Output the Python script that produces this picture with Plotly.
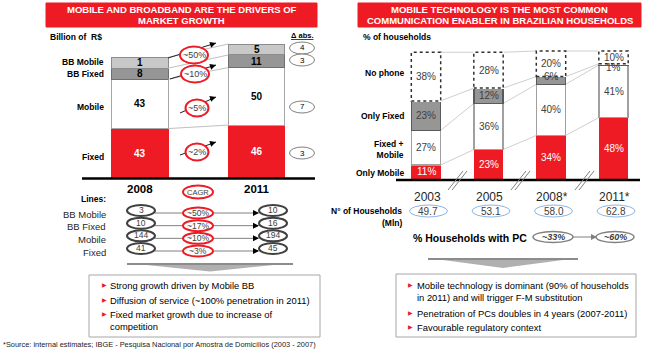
import plotly.graph_objects as go

# ---------------- DATA ----------------
left_years = ["2008", "2011"]
fixed_bn = [43, 46]
mobile_bn = [43, 50]
bb_fixed_bn = [8, 11]
bb_mobile_bn = [1, 5]
left_rows = ["BB Mobile", "BB Fixed", "Mobile", "Fixed"]
growth_rows = ["~50%", "~10%", "~5%", "~2%"]

line_rows = ["BB Mobile", "BB Fixed", "Mobile", "Fixed"]
lines_2008 = [3, 10, 144, 41]
lines_2011 = [10, 16, 194, 45]
lines_cagr = ["~50%", "~17%", "~10%", "~3%"]

right_years = ["2003", "2005", "2008*", "2011*"]
only_mobile = [11, 23, 34, 48]
fixed_mobile = [27, 36, 40, 41]
only_fixed = [23, 12, 6, 1]
no_phone = [38, 28, 20, 10]
right_rows = ["No phone", "Only Fixed", "Fixed +<br>Mobile", "Only Mobile"]
households = [49.7, 53.1, 58.0, 62.8]
pc_share = ["~33%", "~60%"]

left_bullets = ["Strong growth driven by Mobile BB",
                "Diffusion of service (~100% penetration in 2011)",
                "Fixed market growth due to increase of<br>competition"]
right_bullets = ["Mobile technology is dominant (90% of households<br>in 2011) and will trigger F-M substitution",
                 "Penetration of PCs doubles in 4 years (2007-2011)",
                 "Favourable regulatory context"]
source = "*Source: internal estimates; IBGE - Pesquisa Nacional por Amostra de Domicílios (2003 - 2007)"

# ---------------- STYLE / HELPERS ----------------
W, H = 650, 351
RED = "#EE1B24"
FONT = "Liberation Sans, Arial, sans-serif"
GRAYTXT = "#404040"
MIN_SEG = 9.5  # small segments drawn with a minimum height (as in the original)

def X(p): return p / W
def Y(p): return 1 - p / H

shapes, ann = [], []

def rect(x0, y0, x1, y1, fill="white", line="#A6A6A6", lw=1, dash=None):
    shapes.append(dict(type="rect", xref="paper", yref="paper", x0=X(x0), x1=X(x1),
                       y0=Y(y1), y1=Y(y0), fillcolor=fill,
                       line=dict(color=line, width=lw, dash=dash), layer="above"))

def ellipse(cx, cy, w, h, line, lw, fill="white"):
    shapes.append(dict(type="circle", xref="paper", yref="paper", x0=X(cx - w / 2), x1=X(cx + w / 2),
                       y0=Y(cy + h / 2), y1=Y(cy - h / 2), fillcolor=fill,
                       line=dict(color=line, width=lw), layer="above"))

def seg(x0, y0, x1, y1, color, lw=1, dash=None):
    shapes.append(dict(type="line", xref="paper", yref="paper", x0=X(x0), y0=Y(y0), x1=X(x1), y1=Y(y1),
                       line=dict(color=color, width=lw, dash=dash), layer="above"))

def poly(pts, fill):
    path = "M " + " L ".join(f"{X(a):.5f},{Y(b):.5f}" for a, b in pts) + " Z"
    shapes.append(dict(type="path", xref="paper", yref="paper", path=path, fillcolor=fill,
                       line=dict(width=0), layer="above"))

def txt(x, y, s, size=9, color="black", bold=False, anchor="center", italic=False):
    if bold: s = f"<b>{s}</b>"
    if italic: s = f"<i>{s}</i>"
    ann.append(dict(xref="paper", yref="paper", x=X(x), y=Y(y), text=s, showarrow=False,
                    xanchor=anchor, yanchor="middle", font=dict(size=size, color=color, family=FONT)))

def head(x, y, fx, fy, color="black", size=1.0):
    ann.append(dict(xref="paper", yref="paper", x=X(x), y=Y(y), ax=fx - x, ay=fy - y, text="",
                    showarrow=True, arrowhead=2, arrowsize=size, arrowwidth=1.2,
                    arrowcolor=color, standoff=0))

fig = go.Figure()

# ---------------- LEFT CHART ----------------
LW = 0.485
L_BASE, L_SCALE, L_RANGE = 178, 1.15, 122
disp = lambda arr: [max(v, MIN_SEG) for v in arr]
left_series = [
    ("Fixed", fixed_bn, RED, RED, "white"),
    ("Mobile", mobile_bn, "white", "#A6A6A6", "black"),
    ("BB Fixed", bb_fixed_bn, "#969696", "#6E6E6E", "black"),
    ("BB Mobile", bb_mobile_bn, "#C8C8C8", "#8C8C8C", "black"),
]
cum = [0.0, 0.0]
levels = []
for name, vals, fill, lc, tc in left_series:
    d = disp(vals)
    fig.add_trace(go.Bar(x=[0, 1], y=d, width=LW, xaxis="x", yaxis="y", name=name,
                         marker=dict(color=fill, line=dict(color=lc, width=1)), hoverinfo="skip"))
    for i in range(2):
        ann.append(dict(xref="x", yref="y", x=i, y=cum[i] + d[i] / 2, text=f"<b>{vals[i]}</b>",
                        showarrow=False, font=dict(size=10, color=tc, family=FONT)))
        cum[i] += d[i]
    levels.append(list(cum))
for lv in levels:
    shapes.append(dict(type="line", xref="x", yref="y", x0=LW / 2, x1=1 - LW / 2, y0=lv[0], y1=lv[1],
                       line=dict(color="#BFBFBF", width=1), layer="above"))

# header
rect(46, 3, 317, 27, fill=RED, line=RED)
txt(181.5, 9.5, "MOBILE AND BROADBAND ARE THE DRIVERS OF", 9.5, "white", True)
txt(181.5, 20.8, "MARKET GROWTH", 9.5, "white", True)
txt(48, 37, "Billion of  R$", 8.5, "black", True, "left")
txt(302, 35, "<u>Δ abs.</u>", 7.5, "black", True)

row_y = [62, 74, 107, 157]
for lab, yy in zip(left_rows, row_y):
    txt(106, yy, lab, 8.5, "black", True, "right")

# growth arrows + red ellipses
g_geo = [((168, 58), (216, 43), (194, 55), 28), ((170, 79), (216, 65), (195, 74), 28),
         ((180, 113), (216, 97), (197, 108), 23), ((180, 155), (216, 142), (197, 152), 23)]
for lab, (s, e, c, w) in zip(growth_rows, g_geo):
    seg(s[0], s[1], e[0], e[1], "#202020", 1)
    ellipse(c[0], c[1], w, 17, RED, 2)
    txt(c[0], c[1], lab, 9, GRAYTXT)
    head(e[0], e[1], e[0] - 7, e[1] + 2.2)

# delta abs ellipses
deltas = [bb_mobile_bn[1] - bb_mobile_bn[0], bb_fixed_bn[1] - bb_fixed_bn[0],
          mobile_bn[1] - mobile_bn[0], fixed_bn[1] - fixed_bn[0]]
for d, yy in zip(deltas, [48, 60, 107, 153]):
    ellipse(302, yy, 25, 12, "#808080", 1)
    txt(302, yy, str(d), 8, "black")

seg(82, 178.5, 315, 178.5, "black", 2.5)
for i, yr in enumerate(left_years):
    ann.append(dict(xref="x", yref="paper", x=i, y=Y(188.5), text=f"<b>{yr}</b>", showarrow=False,
                    font=dict(size=11.5, color="black", family=FONT)))
ellipse(198, 192, 30, 13, RED, 2)
txt(198, 192, "CAGR", 7.5, GRAYTXT)

txt(108, 199, "Lines:", 8.5, "black", True, "right")
for r, (lab, a, b, c) in enumerate(zip(line_rows, lines_2008, lines_2011, lines_cagr)):
    yy = 210.5 + 12.67 * r
    txt(108, yy + 3.5, lab, 9.5, "#262626", False, "right")
    seg(155, yy + 2.5, 258, yy + 2.5, "#808080", 1)
    ellipse(141, yy, 28, 11, "#404040", 2)
    txt(141, yy - 0.5, str(a), 8.5, GRAYTXT)
    ellipse(273, yy, 28, 11, "#404040", 2)
    txt(273, yy - 0.5, str(b), 8.5, GRAYTXT)
    ellipse(198, yy + 2.5, 30, 11, RED, 2)
    txt(198, yy + 2.5, c, 8.5, GRAYTXT)
    head(259, yy + 2.5, 252, yy + 2.5)

poly([(127, 263), (293, 263), (210, 271.5)], "#B0B0B0")
poly([(127, 263), (293, 263), (293, 265), (127, 265)], "#8C8C8C")
rect(89, 275, 320, 337, line="#A6A6A6", lw=1)
for s, yy in zip(left_bullets, [285, 299.5, 314]):
    txt(100, yy, "▶", 5.5, RED, False, "left")
    ann.append(dict(xref="paper", yref="paper", x=X(108), y=Y(yy - 6.8), text=s, showarrow=False,
                    xanchor="left", yanchor="top", align="left",
                    font=dict(size=9.4, color="black", family=FONT)))

txt(1, 344.5, source, 7.4, "#222222", False, "left")

# ---------------- RIGHT CHART ----------------
RW = 0.47
R_BASE, R_SCALE, R_RANGE = 179, 1.28, 102
right_series = [
    ("Only Mobile", only_mobile, RED, RED, "white"),
    ("Fixed + Mobile", fixed_mobile, "white", "#A0A0A0", GRAYTXT),
    ("Only Fixed", only_fixed, "#969696", "#5A5A5A", GRAYTXT),
    ("No phone", no_phone, "white", "white", GRAYTXT),
]
rc = [0.0] * 4
rlevels = []
for name, vals, fill, lc, tc in right_series:
    fig.add_trace(go.Bar(x=[0, 1, 2, 3], y=vals, width=RW, xaxis="x2", yaxis="y2", name=name,
                         marker=dict(color=fill, line=dict(color=lc, width=1.5 if fill != RED else 0)),
                         hoverinfo="skip"))
    for i, v in enumerate(vals):
        ys = -3 if v < 3 else (4 if v < 8 else 0)
        ann.append(dict(xref="x2", yref="y2", x=i, y=rc[i] + v / 2, yshift=ys, text=f"{v}%",
                        showarrow=False, font=dict(size=10, color=tc, family=FONT)))
        if name == "No phone":
            shapes.append(dict(type="rect", xref="x2", yref="y2", x0=i - RW / 2, x1=i + RW / 2,
                               y0=rc[i], y1=rc[i] + v, line=dict(color="#303030", width=1.5, dash="dot"),
                               layer="above"))
        rc[i] += v
    rlevels.append(list(rc))
for lv in rlevels:
    for i in range(3):
        shapes.append(dict(type="line", xref="x2", yref="y2", x0=i + RW / 2, x1=i + 1 - RW / 2,
                           y0=lv[i], y1=lv[i + 1], line=dict(color="#CFCFCF", width=1), layer="below"))

rect(358, 3, 641, 27, fill=RED, line=RED)
txt(499.5, 9.5, "MOBILE TECHNOLOGY IS THE MOST COMMON", 9.5, "white", True)
txt(499.5, 20.8, "COMMUNICATION ENABLER IN BRAZILIAN HOUSEHOLDS", 9.5, "white", True)
txt(361, 37, "% of households", 8.5, "black", True, "left")
for lab, yy in zip(right_rows, [73, 116, 149.5, 173]):
    ann.append(dict(xref="paper", yref="paper", x=X(406), y=Y(yy), text=f"<b>{lab}</b>", showarrow=False,
                    xanchor="right", yanchor="middle", align="right",
                    font=dict(size=8.5, color="black", family=FONT)))

seg(396, 180, 640, 180, "black", 2.5)
for c in [457, 520, 584]:
    seg(c - 9, 190, c + 6, 171, "#808080", 1)
    seg(c - 5, 190, c + 10, 171, "#808080", 1)

def rcx(i): return 394.75 + 62.5 * (i + 0.5)

for i, yr in enumerate(right_years):
    txt(rcx(i) + 1, 197, yr, 12, "#262626")
txt(404, 211, "N° of Households", 8.5, "black", True, "right")
txt(404, 223, "(Mln)", 8.5, "black", True, "right")
for i, hh in enumerate(households):
    ellipse(rcx(i) + 2.5, 211, 38, 12, "#8DB4E2", 1)
    txt(rcx(i) + 2.5, 211, f"{hh:.1f}", 10, GRAYTXT)

txt(470, 238, "% Households with PC", 10.5, "black", True)
seg(572, 237, 596, 237, "#808080", 1)
ellipse(553, 237, 40, 11, "#808080", 1.5)
txt(553, 237, pc_share[0], 9, GRAYTXT, True, "center", True)
ellipse(615, 237, 38, 11, "#808080", 1.5)
txt(615, 237, pc_share[1], 9, GRAYTXT, True, "center", True)
head(597, 237, 591, 237, "#808080")

poly([(428, 258), (578, 258), (503, 268)], "#B0B0B0")
poly([(428, 258), (578, 258), (578, 260), (428, 260)], "#8C8C8C")
rect(396, 274, 636, 337, line="#A6A6A6", lw=1)
for s, yy in zip(right_bullets, [285, 313, 327]):
    txt(406, yy, "▶", 5.5, RED, False, "left")
    ann.append(dict(xref="paper", yref="paper", x=X(415), y=Y(yy - 6.8), text=s, showarrow=False,
                    xanchor="left", yanchor="top", align="left",
                    font=dict(size=9.4, color="black", family=FONT)))

# ---------------- LAYOUT ----------------
fig.update_layout(
    width=W, height=H, margin=dict(l=0, r=0, t=0, b=0),
    paper_bgcolor="white", plot_bgcolor="white", showlegend=False, barmode="stack",
    xaxis=dict(domain=[X(81.75), X(314.75)], range=[-0.5, 1.5], visible=False, fixedrange=True),
    yaxis=dict(domain=[Y(L_BASE), Y(L_BASE - L_RANGE * L_SCALE)], range=[0, L_RANGE], visible=False),
    xaxis2=dict(domain=[X(394.75), X(644.75)], range=[-0.5, 3.5], visible=False, anchor="y2"),
    yaxis2=dict(domain=[Y(R_BASE), Y(R_BASE - R_RANGE * R_SCALE)], range=[0, R_RANGE], visible=False,
                anchor="x2"),
    shapes=shapes, annotations=ann,
)
fig.write_html("out.html")
